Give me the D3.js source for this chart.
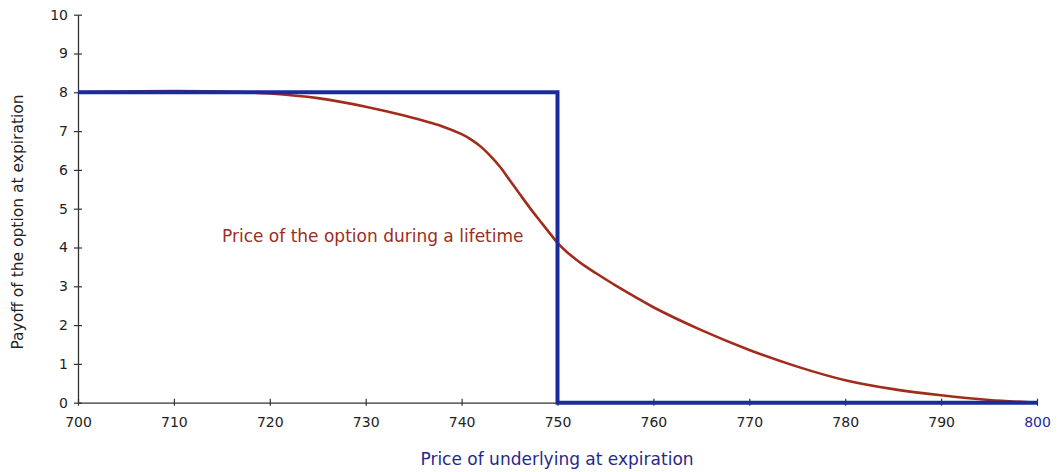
<!DOCTYPE html>
<html><head><meta charset="utf-8">
<script src="https://cdn.jsdelivr.net/npm/d3@7"></script>
<style>body{margin:0;background:#fff}svg{display:block}text{font-family:"DejaVu Sans",Verdana,sans-serif}</style>
</head><body><svg id="c" width="1060" height="472"></svg>
<script>
const xTicks = [700,710,720,730,740,750,760,770,780,790,800];
const yTicks = [0,1,2,3,4,5,6,7,8,9,10];
const payoffX = [700,750,750,800];
const payoffY = [8,8,0,0];
const priceX = [700,705,710,715,720,725,730,734,738,740,741,742,743,744,745,746,747,748,749,750,751,752,753,754,756,758,760,765,770,775,780,785,790,795,800];
const priceY = [8.00,8.02,8.03,8.02,7.97,7.85,7.63,7.40,7.12,6.92,6.78,6.60,6.36,6.08,5.74,5.40,5.06,4.74,4.43,4.12,3.88,3.68,3.50,3.34,3.03,2.74,2.46,1.87,1.36,0.93,0.58,0.35,0.19,0.07,0.0];
const curveLabel = "Price of the option during a lifetime";
const xTitle = "Price of underlying at expiration";
const yTitle = "Payoff of the option at expiration";

const svg = d3.select("#c");
const x = d3.scaleLinear().domain([700,800]).range([78,1037]);
const y = d3.scaleLinear().domain([0,10]).range([402.7,14.7]);

const gx = svg.append("g").attr("transform",`translate(0,${y(0)})`)
  .call(d3.axisBottom(x).tickValues(xTicks).tickSize(0).tickPadding(14).tickFormat(d3.format("d")));
gx.select(".domain").attr("stroke","#333").attr("stroke-width",1.3);
gx.selectAll(".tick text").attr("font-size",14).attr("fill",d=>d===800?"#1b2a9c":"#222");
gx.selectAll(".tick").append("line").attr("y1",-4).attr("y2",3).attr("stroke","#333").attr("stroke-width",1.2);

const gy = svg.append("g").attr("transform",`translate(${x(700)},0)`)
  .call(d3.axisLeft(y).tickValues(yTicks).tickSize(0).tickPadding(10));
gy.select(".domain").attr("stroke","#333").attr("stroke-width",1.3);
gy.selectAll(".tick text").attr("font-size",14).attr("fill","#222");
gy.selectAll(".tick").append("line").attr("x1",-4).attr("x2",4).attr("stroke","#333").attr("stroke-width",1.2);

const line = d3.line().x(d=>x(d[0])).y(d=>y(d[1])).curve(d3.curveCatmullRom.alpha(0.5));
svg.append("path").datum(priceX.map((v,i)=>[v,priceY[i]]))
  .attr("d",line).attr("fill","none").attr("stroke","#a12c1c").attr("stroke-width",2.6);

const line2 = d3.line().x(d=>x(d[0])).y(d=>y(d[1]));
svg.append("path").datum(payoffX.map((v,i)=>[v,payoffY[i]]))
  .attr("d",line2).attr("fill","none").attr("stroke","#1a2b9b").attr("stroke-width",4);

svg.append("text").attr("x",222).attr("y",242).attr("font-size",17).attr("fill","#9a2e22").text(curveLabel);
svg.append("text").attr("x",557).attr("y",465).attr("text-anchor","middle").attr("font-size",17).attr("fill","#1f2a8c").text(xTitle);
svg.append("text").attr("transform","translate(23,222) rotate(-90)").attr("text-anchor","middle").attr("font-size",15.5).attr("fill","#222").text(yTitle);
</script></body></html>
